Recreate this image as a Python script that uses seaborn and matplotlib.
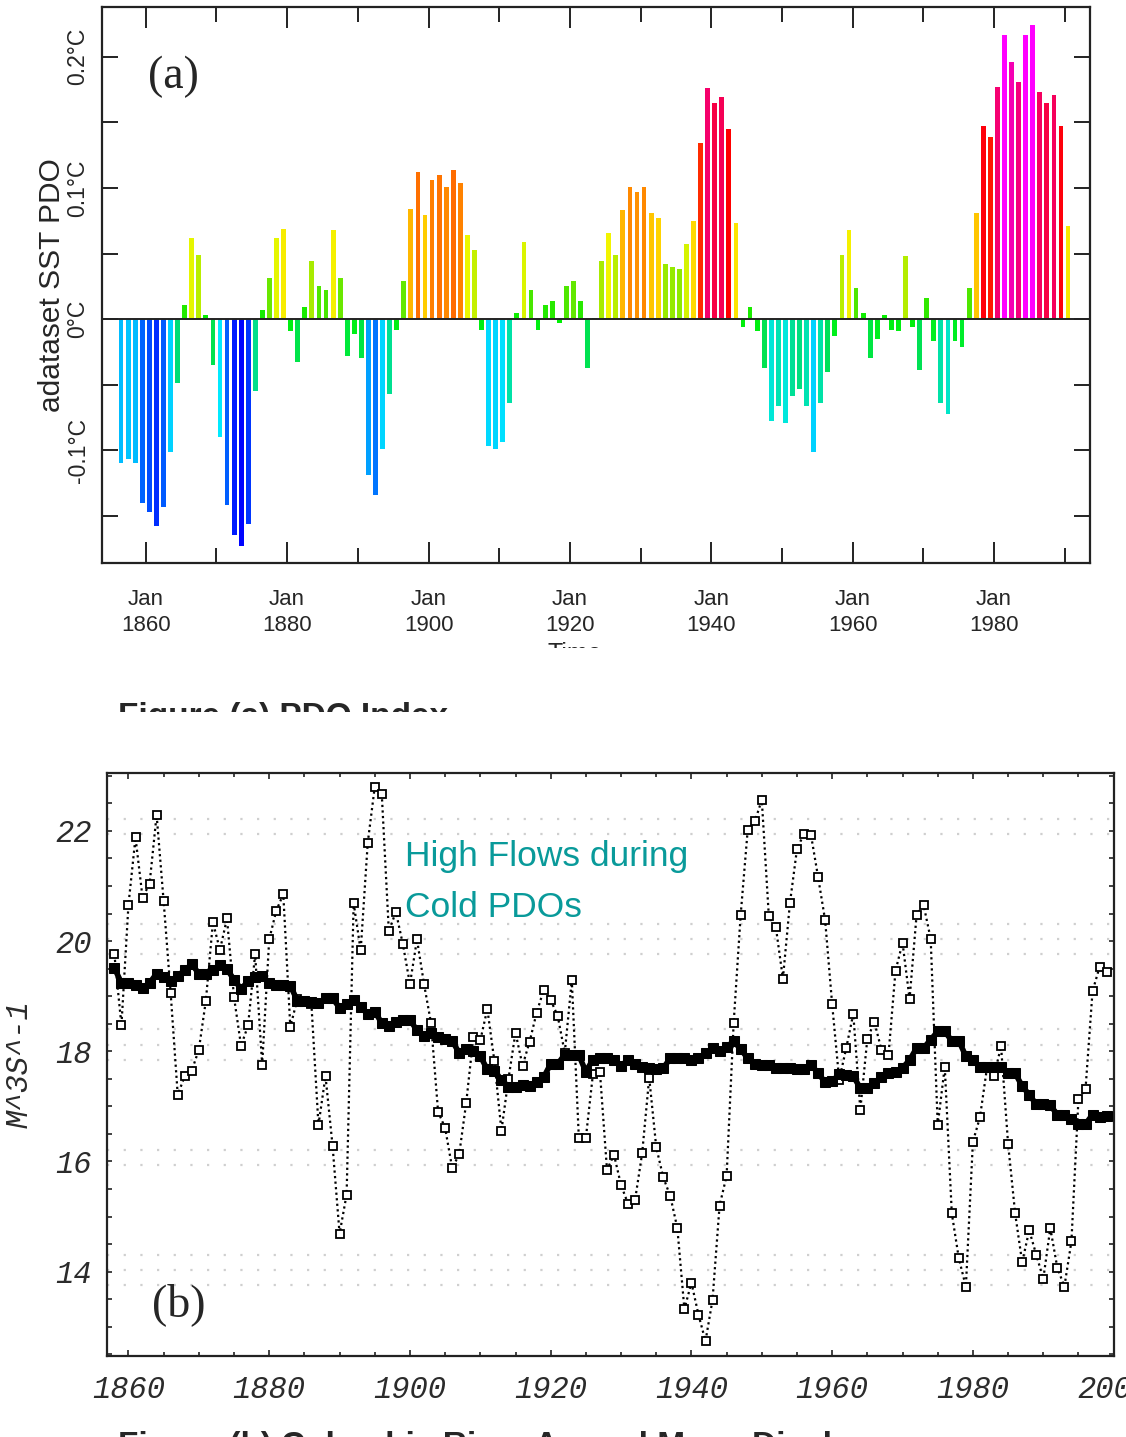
"""
PDO index bars (a) and Columbia River annual flows (b), stacked as in the report figure.
"""

import numpy as np
import pandas as pd
import matplotlib
matplotlib.use("Agg")
from matplotlib import pyplot as plt
from matplotlib.colors import LinearSegmentedColormap, Normalize
from matplotlib.ticker import MultipleLocator, FuncFormatter, FixedLocator
from matplotlib.transforms import Bbox, TransformedBbox
import seaborn as sns

# ---- data, panel (a): annual PDO index (deg C), 1856-1990
pdo_years = np.arange(1856, 1991)
pdo_values = [
    -0.110, -0.107, -0.110, -0.140, -0.147, -0.158, -0.143, -0.101, -0.049, 0.011,   # 1856-65
    0.062, 0.049, 0.003, -0.035, -0.090, -0.142, -0.165, -0.173, -0.156, -0.055,     # 1866-75
    0.007, 0.031, 0.062, 0.069, -0.009, -0.033, 0.009, 0.044, 0.025, 0.022,          # 1876-85
    0.068, 0.031, -0.028, -0.011, -0.030, -0.119, -0.134, -0.099, -0.057, -0.008,    # 1886-95
    0.029, 0.084, 0.112, 0.079, 0.106, 0.110, 0.101, 0.114, 0.104, 0.064,            # 1896-1905
    0.053, -0.008, -0.097, -0.099, -0.094, -0.064, 0.005, 0.059, 0.022, -0.008,      # 1906-15
    0.011, 0.014, -0.003, 0.025, 0.029, 0.014, -0.037, 0.001, 0.044, 0.066,          # 1916-25
    0.049, 0.083, 0.101, 0.097, 0.101, 0.081, 0.077, 0.042, 0.040, 0.038,            # 1926-35
    0.057, 0.075, 0.134, 0.176, 0.165, 0.169, 0.145, 0.073, -0.006, 0.009,           # 1936-45
    -0.009, -0.037, -0.078, -0.066, -0.079, -0.059, -0.053, -0.066, -0.101, -0.064,  # 1946-55
    -0.040, -0.013, 0.049, 0.068, 0.024, 0.005, -0.030, -0.015, 0.003, -0.008,       # 1956-65
    -0.009, 0.048, -0.006, -0.039, 0.016, -0.017, -0.064, -0.072, -0.017, -0.021,    # 1966-75
    0.024, 0.081, 0.147, 0.139, 0.177, 0.217, 0.196, 0.181, 0.217, 0.224,            # 1976-85
    0.173, 0.165, 0.171, 0.147, 0.071,                                               # 1986-90
]
pdo_ticks = [1860, 1880, 1900, 1920, 1940, 1960, 1980]
pdo_tick_labels = ["Jan\n1860", "Jan\n1880", "Jan\n1900", "Jan\n1920",
                   "Jan\n1940", "Jan\n1960", "Jan\n1980"]
pdo_ylabels = {0.2: "0.2°C", 0.1: "0.1°C", 0.0: "0°C", -0.1: "-0.1°C"}

# ---- data, panel (b): annual flow and its running mean (m^3/s), 1858-1999
flow_years = np.arange(1858, 2000)
annual_flow = [
    19.76, 18.47, 20.66, 21.88, 20.79, 21.04, 22.29, 20.72, 19.05, 17.21,  # 1858-67
    17.55, 17.65, 18.03, 18.92, 20.34, 19.84, 20.41, 18.98, 18.10, 18.47,  # 1868-77
    19.76, 17.76, 20.03, 20.55, 20.85, 18.44, 18.95, 18.90, 18.85, 16.66,  # 1878-87
    17.55, 16.29, 14.69, 15.40, 20.69, 19.83, 21.78, 22.80, 22.66, 20.18,  # 1888-97
    20.53, 19.94, 19.22, 20.03, 19.22, 18.51, 16.90, 16.61, 15.88, 16.13,  # 1898-1907
    17.07, 18.25, 18.20, 18.77, 17.82, 16.56, 17.50, 18.34, 17.74, 18.17,  # 1908-17
    18.70, 19.11, 18.93, 18.64, 17.97, 19.29, 16.43, 16.43, 17.58, 17.62,  # 1918-27
    15.85, 16.12, 15.57, 15.23, 15.31, 16.15, 17.52, 16.26, 15.71, 15.37,  # 1928-37
    14.79, 13.32, 13.80, 13.22, 12.74, 13.49, 15.20, 15.74, 18.51, 20.48,  # 1938-47
    22.02, 22.17, 22.56, 20.45, 20.25, 19.32, 20.69, 21.67, 21.95, 21.92,  # 1948-57
    21.16, 20.38, 18.85, 17.48, 18.06, 18.68, 16.94, 18.23, 18.53, 18.03,  # 1958-67
    17.93, 19.46, 19.97, 18.95, 20.48, 20.65, 20.04, 16.66, 17.72, 15.06,  # 1968-77
    14.24, 13.73, 16.36, 16.80, 17.70, 17.55, 18.09, 16.32, 15.06, 14.17,  # 1978-87
    14.75, 14.31, 13.87, 14.79, 14.07, 13.73, 14.55, 17.14, 17.31, 19.09,  # 1988-97
    19.53, 19.43,                                                          # 1998-99
]
running_flow = [
    19.51, 19.24, 19.24, 19.20, 19.15, 19.24, 19.41, 19.34, 19.27, 19.37,  # 1858-67
    19.47, 19.58, 19.41, 19.41, 19.47, 19.56, 19.49, 19.30, 19.13, 19.27,  # 1868-77
    19.35, 19.37, 19.24, 19.20, 19.20, 19.19, 18.92, 18.92, 18.90, 18.88,  # 1878-87
    18.96, 18.96, 18.79, 18.86, 18.93, 18.81, 18.67, 18.72, 18.51, 18.45,  # 1888-97
    18.53, 18.57, 18.57, 18.38, 18.28, 18.34, 18.26, 18.23, 18.19, 17.97,  # 1898-1907
    18.04, 18.01, 17.91, 17.67, 17.65, 17.48, 17.36, 17.36, 17.39, 17.37,  # 1908-17
    17.44, 17.53, 17.77, 17.77, 17.94, 17.94, 17.93, 17.63, 17.85, 17.87,  # 1918-27
    17.87, 17.85, 17.74, 17.84, 17.77, 17.72, 17.70, 17.67, 17.70, 17.87,  # 1928-37
    17.87, 17.87, 17.84, 17.87, 17.96, 18.06, 18.01, 18.08, 18.18, 18.04,  # 1938-47
    17.87, 17.77, 17.75, 17.75, 17.70, 17.70, 17.70, 17.67, 17.67, 17.76,  # 1948-57
    17.60, 17.44, 17.46, 17.58, 17.57, 17.55, 17.33, 17.33, 17.43, 17.53,  # 1958-67
    17.60, 17.63, 17.70, 17.84, 18.06, 18.06, 18.21, 18.36, 18.36, 18.19,  # 1968-77
    18.19, 17.91, 17.84, 17.72, 17.72, 17.72, 17.72, 17.60, 17.60, 17.37,  # 1978-87
    17.21, 17.04, 17.04, 17.02, 16.85, 16.85, 16.78, 16.68, 16.68, 16.85,  # 1988-97
    16.80, 16.83,                                                          # 1998-99
]
flow_ticks = [1860, 1880, 1900, 1920, 1940, 1960, 1980, 2000]
flow_yticks = [14, 16, 18, 20, 22]

# ---- styling
sns.set_style("ticks")
W, H = 1126, 1437
fig = plt.figure(figsize=(W / 100, H / 100), dpi=100)
fig.patch.set_facecolor("white")

sans = ["Liberation Sans", "DejaVu Sans"]
mono = ["Liberation Mono", "DejaVu Sans Mono"]
serif = ["Liberation Serif", "DejaVu Serif"]


def px_axes(x0, y0, x1, y1):
    # rectangle given in picture pixels (top-left origin)
    return [x0 / W, 1 - y1 / H, (x1 - x0) / W, (y1 - y0) / H]


# ================= panel (a) =================
ax1 = fig.add_axes(px_axes(102, 7, 1090, 563))

# rainbow-ish scale: blue (cold) -> green -> yellow -> orange -> red -> magenta (warm)
nodes = [(-0.175, (0, 0, 255)), (-0.14, (0, 100, 255)), (-0.11, (0, 190, 255)),
         (-0.09, (0, 235, 255)), (-0.07, (0, 228, 190)), (-0.045, (0, 220, 100)),
         (-0.02, (0, 238, 40)), (0.0, (0, 240, 0)), (0.02, (60, 230, 0)),
         (0.045, (170, 235, 0)), (0.065, (240, 248, 0)), (0.075, (255, 222, 0)),
         (0.085, (255, 178, 0)), (0.10, (255, 140, 0)), (0.115, (255, 105, 0)),
         (0.135, (255, 40, 0)), (0.145, (255, 0, 0)), (0.17, (245, 0, 85)),
         (0.20, (245, 0, 190)), (0.215, (255, 0, 255)), (0.225, (255, 0, 255))]
vmin, vmax = nodes[0][0], nodes[-1][0]
cmap = LinearSegmentedColormap.from_list(
    "pdo", [((v - vmin) / (vmax - vmin), np.array(c) / 255) for v, c in nodes])
norm = Normalize(vmin, vmax)

pdo = pd.DataFrame({"year": pdo_years + 0.5, "pdo": pdo_values,
                    "label": [str(y) for y in pdo_years]})
palette = {lab: cmap(norm(v)) for lab, v in zip(pdo["label"], pdo["pdo"])}

sns.barplot(data=pdo, x="year", y="pdo", hue="label", palette=palette,
            native_scale=True, dodge=False, legend=False, width=0.68,
            saturation=1, errorbar=None, linewidth=0, ax=ax1)

ax1.set_xlim(1853.8, 1993.6)
ax1.set_ylim(-0.186, 0.238)
ax1.axhline(0, color="#222222", lw=1.4, zorder=5)

ax1.xaxis.set_major_locator(FixedLocator(pdo_ticks))
ax1.set_xticklabels(pdo_tick_labels, family=sans, fontsize=16, linespacing=1.3)
ax1.xaxis.set_minor_locator(MultipleLocator(10))
ax1.yaxis.set_major_locator(MultipleLocator(0.05))
ax1.yaxis.set_major_formatter(FuncFormatter(
    lambda v, pos: pdo_ylabels.get(round(v, 2) + 0.0, "")))
ax1.tick_params(axis="both", which="both", direction="in", top=True, right=True,
                color="#222222", width=1.4)
ax1.tick_params(axis="x", which="major", length=15, pad=19)
ax1.tick_params(axis="x", which="minor", length=11)
ax1.tick_params(axis="y", which="major", length=11.5, pad=9, labelsize=16.5,
                labelrotation=90)
for lab in ax1.get_yticklabels():
    lab.set_family(sans)
    lab.set_verticalalignment("center")
for s in ax1.spines.values():
    s.set_linewidth(1.6)
    s.set_color("#222222")

ax1.set_xlabel("")
ax1.set_ylabel("adataset SST PDO", family=sans, fontsize=21.5)
ax1.yaxis.set_label_coords(-0.036, 0.5)
ax1.text(0.0466, 0.912, "(a)", transform=ax1.transAxes, family=serif,
         fontsize=33, ha="left", va="top")

# ================= panel (b) =================
ax2 = fig.add_axes(px_axes(107, 773, 1114, 1356))
ax2.set_facecolor("none")

# faint dotted background rows
for v in [22.22, 21.94, 20.31, 20.03, 19.76, 18.40, 18.12, 17.85,
          16.21, 15.94, 14.30, 14.03, 13.76]:
    ax2.axhline(v, color="#cfcfcf", lw=1.6, ls=(0, (1, 6.5)), zorder=0)

sns.lineplot(x=flow_years, y=annual_flow, ax=ax2, color="black", lw=1.6,
             linestyle=(0, (1, 1.5)), marker="s", markersize=5.5,
             markerfacecolor="white", markeredgecolor="black",
             markeredgewidth=1.3, errorbar=None, zorder=3)
sns.lineplot(x=flow_years, y=running_flow, ax=ax2, color="black", lw=4,
             marker="s", markersize=7.5, markerfacecolor="black",
             markeredgecolor="black", errorbar=None, zorder=4)

ax2.set_xlim(1856.95, 2000.05)
ax2.set_ylim(12.47, 23.05)
ax2.xaxis.set_major_locator(FixedLocator(flow_ticks))
ax2.xaxis.set_minor_locator(MultipleLocator(5))
ax2.yaxis.set_major_locator(FixedLocator(flow_yticks))
ax2.yaxis.set_minor_locator(MultipleLocator(0.5))
ax2.tick_params(axis="both", which="both", direction="in", top=True, right=True,
                color="#222222", width=1.2)
ax2.tick_params(axis="x", which="major", length=4.5, pad=14)
ax2.tick_params(axis="x", which="minor", length=3)
ax2.tick_params(axis="y", which="both", length=3.6, pad=11)
for lab in ax2.get_xticklabels() + ax2.get_yticklabels():
    lab.set_family(mono)
    lab.set_style("italic")
    lab.set_fontsize(22)
    lab.set_color("#2b2b2b")
for s in ax2.spines.values():
    s.set_linewidth(1.6)
    s.set_color("#222222")

ax2.set_xlabel("")
ax2.set_ylabel("M^3S^-1", family=mono, style="italic", fontsize=22,
               color="#2b2b2b")
ax2.yaxis.set_label_coords(-0.0715, 0.5)

teal = "#099a9a"
ax2.text(0.296, 0.8405, "High Flows during", transform=ax2.transAxes,
         family=sans, fontsize=25.5, color=teal, va="baseline")
ax2.text(0.296, 0.753, "Cold PDOs", transform=ax2.transAxes,
         family=sans, fontsize=25.5, color=teal, va="baseline")
ax2.text(0.0447, 0.125, "(b)", transform=ax2.transAxes, family=serif,
         fontsize=33, ha="left", va="top")

# ---- cut-off labels and captions between / below the panels
def clipped_text(x, y, s, clip_top, clip_bottom, **kw):
    t = fig.text(x / W, 1 - y / H, s, **kw)
    box = Bbox([[0, 1 - clip_bottom / H], [1, 1 - clip_top / H]])
    t.set_clip_box(TransformedBbox(box, fig.transFigure))
    t.set_clip_on(True)
    return t

clipped_text(575, 642, "Time", 600, 648, family=sans, fontsize=18,
             ha="center", va="top")
clipped_text(118, 702, "Figure (a) PDO Index", 690, 712, family=sans,
             fontsize=24, fontweight="bold", ha="left", va="top")
clipped_text(118, 1431, "Figure (b) Columbia River Annual Mean Discharge",
             1420, 1437, family=sans, fontsize=24, fontweight="bold",
             ha="left", va="top")

fig.savefig("out.png", dpi=100)
